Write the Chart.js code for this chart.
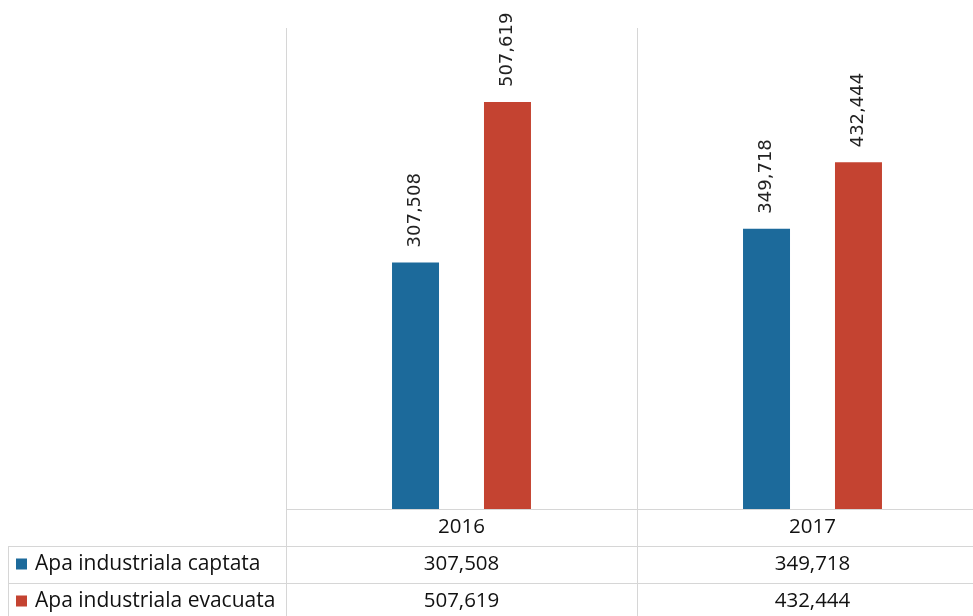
<!DOCTYPE html>
<html>
<head>
<meta charset="utf-8">
<script src="https://cdn.jsdelivr.net/npm/chart.js@4"></script>
<style>
  html, body { margin: 0; padding: 0; background: #fff; overflow: hidden; }
  canvas { display: block; }
</style>
</head>
<body>
<canvas id="bar" width="1000" height="616"></canvas>
<script>
const categories = ['2016', '2017'];
const seriesNames = ['Apa industriala captata', 'Apa industriala evacuata'];
const captata = [307508, 349718];
const evacuata = [507619, 432444];
const seriesColors = ['#1c6a9b', '#c44331'];

const fmt = v => v.toLocaleString('en-US');

// rotated value labels above each bar
const valueLabels = {
  id: 'valueLabels',
  afterDatasetsDraw(chart) {
    const ctx = chart.ctx;
    ctx.save();
    ctx.font = '18px "DejaVu Sans"';
    ctx.fillStyle = '#222';
    ctx.textAlign = 'left';
    ctx.textBaseline = 'middle';
    chart.data.datasets.forEach((ds, i) => {
      chart.getDatasetMeta(i).data.forEach((bar, j) => {
        ctx.save();
        ctx.translate(bar.x, bar.y - 15);
        ctx.rotate(-Math.PI / 2);
        ctx.fillText(fmt(ds.data[j]), 0, 0);
        ctx.restore();
      });
    });
    ctx.restore();
  }
};

// data table under the plot
const dataTable = {
  id: 'dataTable',
  afterDraw(chart) {
    const ctx = chart.ctx;
    const area = chart.chartArea;
    const x = chart.scales.x;
    const rowH = 37;
    const left = 8;
    const bottom = chart.height;
    const step = x.getPixelForValue(1) - x.getPixelForValue(0);
    const edges = [x.getPixelForValue(0) - step / 2, x.getPixelForValue(0) + step / 2, x.getPixelForValue(1) + step / 2];

    ctx.save();
    ctx.strokeStyle = '#d6d6d6';
    ctx.lineWidth = 1;
    ctx.beginPath();
    ctx.moveTo(area.left, area.bottom + 0.5);
    ctx.lineTo(chart.width, area.bottom + 0.5);
    for (let r = 1; r <= 2; r++) {
      const y = Math.round(area.bottom + r * rowH) + 0.5;
      ctx.moveTo(left, y);
      ctx.lineTo(chart.width, y);
    }
    ctx.moveTo(left + 0.5, area.bottom + rowH);
    ctx.lineTo(left + 0.5, bottom);
    edges.forEach(e => {
      ctx.moveTo(Math.round(e) + 0.5, area.bottom);
      ctx.lineTo(Math.round(e) + 0.5, bottom);
    });
    ctx.stroke();

    ctx.font = '20.5px "Open Sans"';
    ctx.fillStyle = '#111';
    ctx.textAlign = 'center';
    ctx.textBaseline = 'middle';
    categories.forEach((c, j) => {
      const cx = x.getPixelForValue(j);
      ctx.fillText(c, cx, area.bottom + rowH / 2);
      chart.data.datasets.forEach((ds, i) => {
        ctx.fillText(fmt(ds.data[j]), cx, area.bottom + rowH * (i + 1.5));
      });
    });

    ctx.font = '21px "Open Sans"';
    ctx.textAlign = 'left';
    chart.data.datasets.forEach((ds, i) => {
      const cy = area.bottom + rowH * (i + 1.5);
      ctx.fillStyle = seriesColors[i];
      ctx.fillRect(left + 8, cy - 6, 11, 11);
      ctx.fillStyle = '#111';
      ctx.fillText(ds.label, left + 27, cy);
    });
    ctx.restore();
  }
};

new Chart(document.getElementById('bar').getContext('2d'), {
  type: 'bar',
  data: {
    labels: categories,
    datasets: [{
      label: seriesNames[0],
      data: captata,
      backgroundColor: seriesColors[0]
    }, {
      label: seriesNames[1],
      data: evacuata,
      backgroundColor: seriesColors[1]
    }]
  },
  options: {
    responsive: false,
    animation: false,
    categoryPercentage: 0.524,
    barPercentage: 0.511,
    layout: {
      padding: { left: 286, right: 12, top: 28, bottom: 107 }
    },
    scales: {
      x: {
        grid: { color: '#d6d6d6', tickLength: 0, drawTicks: false },
        border: { display: false },
        ticks: { display: false }
      },
      y: {
        display: false,
        min: 0,
        max: 600000
      }
    },
    plugins: {
      legend: { display: false },
      tooltip: { enabled: false }
    }
  },
  plugins: [valueLabels, dataTable]
});
</script>
</body>
</html>
